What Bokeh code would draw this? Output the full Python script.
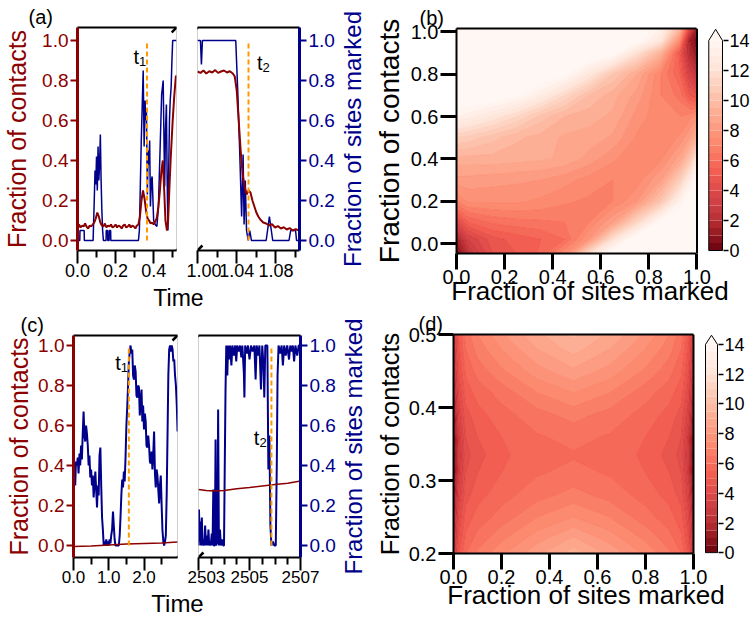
import math
from bokeh.plotting import figure
from bokeh.layouts import row, column
from bokeh.models import LinearAxis, FixedTicker, PrintfTickFormatter, Label, Arrow, Range1d, Span
from bokeh.palettes import Reds9
from bokeh.embed import file_html
from bokeh.resources import INLINE

FONT = "Liberation Sans"
DRED = "#8B0000"
DBLUE = "#00008B"
ORANGE = "#FF9900"

# ===================== values =====================
# ---- panel (a): (time, fraction) ----
a_red_early = [(0.000, 0.060), (0.008, 0.080), (0.016, 0.065), (0.024, 0.075), (0.032, 0.070),
               (0.040, 0.085), (0.048, 0.068), (0.056, 0.060), (0.064, 0.075), (0.072, 0.070),
               (0.080, 0.080), (0.088, 0.090), (0.096, 0.110), (0.104, 0.140), (0.112, 0.120),
               (0.120, 0.090), (0.128, 0.075), (0.136, 0.070), (0.144, 0.085), (0.152, 0.065),
               (0.160, 0.075), (0.168, 0.070), (0.176, 0.080), (0.184, 0.065), (0.192, 0.070),
               (0.200, 0.080), (0.208, 0.065), (0.216, 0.075), (0.224, 0.070), (0.232, 0.060),
               (0.240, 0.075), (0.248, 0.080), (0.256, 0.065), (0.264, 0.070), (0.272, 0.080),
               (0.280, 0.065), (0.288, 0.075), (0.296, 0.070), (0.304, 0.060), (0.312, 0.075),
               (0.320, 0.080), (0.328, 0.120), (0.336, 0.200), (0.344, 0.250), (0.352, 0.210),
               (0.360, 0.150), (0.368, 0.110), (0.376, 0.100), (0.384, 0.085), (0.392, 0.090),
               (0.400, 0.080), (0.408, 0.095), (0.416, 0.110), (0.424, 0.160), (0.432, 0.240),
               (0.440, 0.340), (0.448, 0.400), (0.455, 0.260), (0.462, 0.100), (0.470, 0.050),
               (0.476, 0.100), (0.483, 0.270), (0.490, 0.420), (0.500, 0.600), (0.508, 0.720),
               (0.517, 0.825)]
a_blue_early = [(0.000, 0.0), (0.012, 0.0), (0.013, 0.05), (0.035, 0.05), (0.036, 0.0),
                (0.082, 0.0), (0.088, 0.20), (0.092, 0.35), (0.096, 0.28), (0.100, 0.42),
                (0.104, 0.25), (0.108, 0.47), (0.112, 0.30), (0.116, 0.38), (0.120, 0.53),
                (0.124, 0.30), (0.128, 0.15), (0.132, 0.05), (0.136, 0.0), (0.150, 0.0),
                (0.151, 0.05), (0.158, 0.05), (0.159, 0.0), (0.166, 0.0), (0.167, 0.05),
                (0.174, 0.05), (0.175, 0.0), (0.320, 0.0), (0.325, 0.05), (0.335, 0.50),
                (0.345, 0.85), (0.350, 0.47), (0.355, 0.70), (0.358, 0.60), (0.362, 0.65),
                (0.367, 0.23), (0.371, 0.45), (0.375, 0.38), (0.379, 0.50), (0.383, 0.17),
                (0.388, 0.30), (0.392, 0.32), (0.400, 0.10), (0.408, 0.08), (0.417, 0.07),
                (0.425, 0.17), (0.433, 0.43), (0.442, 0.73), (0.450, 0.80), (0.455, 0.45),
                (0.458, 0.27), (0.462, 0.55), (0.467, 0.68), (0.471, 0.30), (0.475, 0.05),
                (0.479, 0.35), (0.483, 0.60), (0.487, 0.70), (0.492, 0.77), (0.496, 0.90),
                (0.500, 1.00), (0.520, 1.00)]
a_red_late = [(1.000, 0.845), (1.003, 0.838), (1.006, 0.850), (1.009, 0.835), (1.012, 0.846),
              (1.015, 0.840), (1.018, 0.852), (1.021, 0.838), (1.024, 0.845), (1.027, 0.850),
              (1.030, 0.840), (1.033, 0.846), (1.036, 0.835), (1.038, 0.820), (1.040, 0.750),
              (1.042, 0.600), (1.044, 0.450), (1.046, 0.330), (1.048, 0.270), (1.050, 0.230),
              (1.052, 0.250), (1.054, 0.240), (1.056, 0.200), (1.058, 0.170), (1.060, 0.140),
              (1.062, 0.120), (1.064, 0.105), (1.067, 0.090), (1.070, 0.085), (1.073, 0.075),
              (1.076, 0.082), (1.079, 0.065), (1.082, 0.072), (1.085, 0.060), (1.088, 0.066),
              (1.091, 0.055), (1.094, 0.062), (1.097, 0.050), (1.100, 0.056), (1.104, 0.050)]
a_blue_late = [(1.000, 1.0), (1.003, 1.0), (1.004, 0.88), (1.005, 1.0), (1.039, 1.0),
               (1.041, 0.75), (1.043, 0.45), (1.045, 0.12), (1.0465, 0.43), (1.0475, 0.08),
               (1.0487, 0.30), (1.050, 0.05), (1.0517, 0.0), (1.0533, 0.05), (1.055, 0.0),
               (1.070, 0.0), (1.0717, 0.06), (1.0733, 0.12), (1.075, 0.06), (1.0767, 0.0),
               (1.0933, 0.0), (1.095, 0.05), (1.100, 0.05), (1.101, 0.0), (1.104, 0.0)]
a_t1 = 0.365
a_t2 = 1.052

# ---- panel (c): (time, fraction) ----
c_red_early = [(0.0, -0.005), (0.5, -0.002), (1.0, 0.003), (1.5, 0.007), (2.0, 0.010),
               (2.5, 0.013), (2.95, 0.017)]
c_blue_early = [(0.000, 0.20), (0.020, 0.38), (0.048, 0.30), (0.070, 0.42), (0.095, 0.40),
                (0.120, 0.44), (0.143, 0.36), (0.170, 0.46), (0.190, 0.40), (0.215, 0.50),
                (0.238, 0.43), (0.260, 0.55), (0.286, 0.67), (0.310, 0.55), (0.333, 0.52),
                (0.357, 0.60), (0.381, 0.56), (0.405, 0.50), (0.429, 0.40), (0.452, 0.45),
                (0.476, 0.34), (0.500, 0.38), (0.524, 0.30), (0.548, 0.35), (0.571, 0.24),
                (0.595, 0.30), (0.619, 0.37), (0.643, 0.28), (0.667, 0.19), (0.690, 0.30),
                (0.714, 0.25), (0.738, 0.45), (0.762, 0.49), (0.786, 0.30), (0.810, 0.14),
                (0.833, 0.08), (0.857, 0.00), (0.880, 0.02), (0.905, 0.00), (0.930, 0.03),
                (0.952, 0.00), (0.975, 0.02), (1.000, 0.00), (1.024, 0.03), (1.048, 0.01),
                (1.070, 0.05), (1.095, 0.08), (1.120, 0.17), (1.143, 0.10), (1.167, 0.03),
                (1.190, 0.00), (1.240, 0.00), (1.286, 0.00), (1.310, 0.05), (1.333, 0.14),
                (1.357, 0.25), (1.381, 0.33), (1.405, 0.29), (1.429, 0.37), (1.452, 0.32),
                (1.476, 0.44), (1.500, 0.60), (1.524, 0.69), (1.548, 0.80), (1.571, 0.92),
                (1.595, 0.97), (1.619, 1.00), (1.643, 0.96), (1.667, 0.98), (1.690, 0.85),
                (1.714, 0.83), (1.738, 0.90), (1.762, 0.87), (1.786, 0.75), (1.810, 0.74),
                (1.833, 0.80), (1.857, 0.79), (1.880, 0.65), (1.905, 0.72), (1.930, 0.78),
                (1.952, 0.62), (1.975, 0.70), (2.000, 0.58), (2.024, 0.66), (2.048, 0.62),
                (2.070, 0.50), (2.095, 0.49), (2.120, 0.55), (2.143, 0.50), (2.167, 0.42),
                (2.190, 0.41), (2.215, 0.47), (2.238, 0.38), (2.260, 0.45), (2.286, 0.57),
                (2.310, 0.36), (2.333, 0.29), (2.357, 0.38), (2.381, 0.35), (2.405, 0.28),
                (2.429, 0.21), (2.452, 0.30), (2.476, 0.35), (2.500, 0.20), (2.524, 0.075),
                (2.548, 0.02), (2.571, 0.00), (2.595, 0.02), (2.619, 0.05), (2.643, 0.25),
                (2.667, 0.55), (2.690, 0.85), (2.714, 0.98), (2.738, 1.00), (2.762, 0.97),
                (2.786, 1.00), (2.810, 0.98), (2.833, 0.92), (2.857, 0.93), (2.880, 0.85),
                (2.905, 0.80), (2.930, 0.70), (2.952, 0.57)]
c_red_late = [(2503.0, 0.280), (2503.3, 0.275), (2503.6, 0.272), (2504.0, 0.275), (2504.5, 0.284),
              (2505.0, 0.290), (2505.5, 0.298), (2506.0, 0.305), (2506.5, 0.311), (2507.0, 0.322)]
c_blue_late = [(2503.00, 0.00), (2503.02, 0.18), (2503.04, 0.02), (2503.065, 0.12), (2503.09, 0.00),
               (2503.13, 0.14), (2503.16, 0.00), (2503.19, 0.03), (2503.23, 0.00), (2503.26, 0.10),
               (2503.29, 0.00), (2503.32, 0.05), (2503.36, 0.00), (2503.39, 0.08), (2503.42, 0.00),
               (2503.45, 0.02), (2503.48, 0.00), (2503.52, 0.06), (2503.55, 0.00), (2503.58, 0.28),
               (2503.60, 0.00), (2503.64, 0.00), (2503.67, 0.53), (2503.69, 0.00), (2503.74, 0.02),
               (2503.77, 0.68), (2503.80, 0.00), (2503.84, 0.08), (2503.88, 0.00), (2503.93, 0.03),
               (2503.97, 0.00), (2504.00, 0.00), (2504.03, 0.40), (2504.06, 0.78), (2504.09, 1.00),
               (2504.13, 0.85), (2504.16, 1.00), (2504.20, 0.93), (2504.24, 1.00), (2504.29, 0.90),
               (2504.33, 1.00), (2504.39, 0.95), (2504.44, 1.00), (2504.48, 0.92), (2504.52, 1.00),
               (2504.58, 0.97), (2504.63, 1.00), (2504.68, 0.94), (2504.72, 1.00), (2504.78, 0.86),
               (2504.80, 0.74), (2504.83, 1.00), (2504.90, 0.96), (2504.94, 1.00), (2505.00, 0.93),
               (2505.06, 1.00), (2505.12, 0.97), (2505.19, 1.00), (2505.24, 0.83), (2505.28, 1.00),
               (2505.34, 0.95), (2505.39, 1.00), (2505.45, 0.78), (2505.50, 1.00), (2505.55, 0.90),
               (2505.58, 0.74), (2505.62, 1.00), (2505.70, 1.00), (2505.74, 0.38), (2505.78, 0.55),
               (2505.82, 0.10), (2505.86, 0.00), (2505.92, 0.02), (2505.97, 0.00), (2506.03, 0.00),
               (2506.07, 0.40), (2506.10, 0.85), (2506.14, 1.00), (2506.20, 0.96), (2506.26, 1.00),
               (2506.31, 0.90), (2506.36, 1.00), (2506.42, 0.95), (2506.48, 1.00), (2506.55, 0.93),
               (2506.60, 1.00), (2506.66, 0.97), (2506.70, 1.00), (2506.75, 0.92), (2506.80, 1.00),
               (2506.87, 0.95), (2506.93, 1.00), (2507.00, 1.00)]
c_t1 = 1.57
c_t2 = 2505.86

# ---- panel (b): free-energy surface, rows are contacts (bottom -> top) ----
b_sites = [0.0, 0.05, 0.15, 0.25, 0.35, 0.45, 0.55, 0.65, 0.75, 0.85, 0.93, 0.97, 1.0]
b_contacts = [-0.05, 0.02, 0.10, 0.20, 0.30, 0.40, 0.50, 0.60, 0.70, 0.80, 0.90, 0.96, 1.02]
b_energy = [
    [0.3, 2.5, 4.5, 5.0, 5.6, 7.5, 12.0, 15, 15, 15, 15, 15, 15],
    [1.5, 3.5, 4.8, 5.2, 5.5, 6.0, 8.0, 12.0, 15, 15, 15, 15, 15],
    [4.0, 5.5, 6.1, 6.3, 6.4, 6.5, 7.0, 8.5, 11.5, 14.5, 15, 15, 15],
    [7.0, 7.6, 7.6, 7.6, 7.4, 7.1, 6.9, 7.0, 8.0, 10.5, 13.5, 15, 15],
    [8.3, 8.3, 8.2, 8.1, 8.0, 7.7, 7.3, 7.0, 7.2, 8.5, 11.0, 13.0, 14.5],
    [9.3, 9.3, 9.3, 9.2, 9.1, 8.9, 8.3, 7.6, 7.1, 7.4, 8.8, 10.5, 12.5],
    [11.0, 10.8, 10.2, 9.6, 9.3, 8.9, 8.8, 8.4, 7.4, 7.1, 7.6, 8.5, 9.5],
    [13.5, 13.2, 12.4, 11.5, 10.3, 9.5, 9.2, 8.9, 7.8, 7.1, 7.0, 7.3, 7.8],
    [15, 15, 14.8, 14.2, 13.0, 11.5, 10.0, 9.2, 8.3, 7.0, 6.3, 5.0, 4.5],
    [15, 15, 15, 15, 15, 14.3, 12.5, 10.5, 9.0, 7.0, 5.5, 3.5, 2.5],
    [15, 15, 15, 15, 15, 15, 15, 14.5, 12.0, 9.5, 5.0, 2.0, 1.0],
    [15, 15, 15, 15, 15, 15, 15, 15, 14.5, 12.5, 7.5, 1.5, 0.4],
    [15, 15, 15, 15, 15, 15, 15, 15, 15, 13.5, 10.0, 4.5, 1.5],
]

# ---- panel (d) ----
d_sites = [0.0, 0.02, 0.05, 0.1, 0.2, 0.35, 0.5, 0.65, 0.8, 0.9, 0.95, 0.98, 1.0]
d_contacts = [0.2, 0.22, 0.25, 0.28, 0.31, 0.335, 0.36, 0.39, 0.42, 0.45, 0.48, 0.5]
d_energy = [
    [3.3, 4.9, 6.0, 6.6, 7.4, 8.4, 9.3, 8.4, 7.4, 6.6, 6.0, 4.9, 3.3],
    [2.8, 4.5, 5.6, 6.2, 6.9, 7.8, 8.6, 7.8, 6.9, 6.2, 5.6, 4.5, 2.8],
    [2.2, 4.1, 5.2, 5.7, 6.2, 7.0, 7.5, 7.0, 6.2, 5.7, 5.2, 4.1, 2.2],
    [1.5, 3.6, 4.8, 5.3, 5.8, 6.3, 6.7, 6.3, 5.8, 5.3, 4.8, 3.6, 1.5],
    [0.8, 3.2, 4.5, 5.0, 5.5, 5.95, 6.15, 5.95, 5.5, 5.0, 4.5, 3.2, 0.8],
    [0.4, 3.0, 4.3, 4.8, 5.4, 5.8, 5.95, 5.8, 5.4, 4.8, 4.3, 3.0, 0.4],
    [0.8, 3.2, 4.5, 5.0, 5.5, 5.95, 6.15, 5.95, 5.5, 5.0, 4.5, 3.2, 0.8],
    [1.5, 3.6, 4.8, 5.3, 5.8, 6.3, 6.7, 6.3, 5.8, 5.3, 4.8, 3.6, 1.5],
    [2.2, 4.1, 5.2, 5.7, 6.2, 7.0, 7.5, 7.0, 6.2, 5.7, 5.2, 4.1, 2.2],
    [2.8, 4.5, 5.6, 6.2, 6.9, 7.8, 8.4, 7.8, 6.9, 6.2, 5.6, 4.5, 2.8],
    [3.2, 4.8, 6.0, 6.7, 7.5, 8.5, 9.2, 8.5, 7.5, 6.7, 6.0, 4.8, 3.2],
    [3.5, 5.0, 6.2, 7.0, 7.9, 8.9, 9.6, 8.9, 7.9, 7.0, 6.2, 5.0, 3.5],
]

# ---- ticks / levels ----
frac_ticks = [0.0, 0.2, 0.4, 0.6, 0.8, 1.0]
a_early_ticks, a_early_minor = [0.0, 0.2, 0.4], [0.1, 0.3, 0.5]
a_late_ticks, a_late_minor = [1.00, 1.04, 1.08], [1.02, 1.06, 1.10]
c_early_ticks, c_early_minor = [0.0, 1.0, 2.0], [0.5, 1.5, 2.5]
c_late_ticks, c_late_minor = [2503, 2505, 2507], [2503.5, 2504, 2504.5, 2505.5, 2506, 2506.5]
d_y_ticks = [0.2, 0.3, 0.4, 0.5]
cb_ticks = [0, 2, 4, 6, 8, 10, 12, 14]
levels = [0.0, 0.5, 1.0, 1.5, 2.0, 2.5, 3.0, 3.5, 4.0, 4.5, 5.0, 5.5, 6.0, 6.5, 7.0,
          7.5, 8.0, 8.5, 9.0, 9.5, 10.0, 10.5, 11.0, 11.5, 12.0, 12.5, 13.0, 13.5, 14.0]
over_level = 100.0


# ===================== styling helpers =====================
def reds_rgb(f):
    stops = list(Reds9)  # dark -> light
    f = min(max(f, 0.0), 1.0)
    pos = f * (len(stops) - 1)
    i = min(int(pos), len(stops) - 2)
    fr = pos - i
    a = [int(stops[i][k:k + 2], 16) for k in (1, 3, 5)]
    b = [int(stops[i + 1][k:k + 2], 16) for k in (1, 3, 5)]
    return [a[k] + (b[k] - a[k]) * fr for k in range(3)]


def band_color(v, darken=0.0):
    rgb = reds_rgb(v / levels[-1])
    alpha = 1.0 - 0.18 * min(v / 3.0, 1.0) + darken
    alpha = min(alpha, 1.0)
    return "#" + "".join("%02x" % round(255 + (c - 255) * alpha) for c in rgb)


band_colors = [band_color((lo + hi) / 2) for lo, hi in zip(levels[:-1], levels[1:])]
over_color = band_color(levels[-1])
line_colors = [band_color(max(lv - 0.25, 0.0), darken=0.12) for lv in levels] + [over_color]


def base_fig(w, h, xr, yr, bl, br, bt, bb):
    p = figure(width=w, height=h, x_range=Range1d(*xr), y_range=Range1d(*yr),
               min_border_left=bl, min_border_right=br, min_border_top=bt, min_border_bottom=bb,
               x_axis_location=None, y_axis_location=None,
               output_backend="svg", toolbar_location=None)
    p.grid.grid_line_color = None
    p.background_fill_color = "white"
    p.border_fill_color = "white"
    return p


def add_axis(p, side, ticks, minor, fmt, color="black", line_w=2, tick_w=2, out=8, minor_out=5,
             size=19, standoff=2, line_color="same", label=None, label_size=25, label_color=None,
             label_standoff=5, **kw):
    ax = LinearAxis(ticker=FixedTicker(ticks=ticks, minor_ticks=minor or []),
                    formatter=PrintfTickFormatter(format=fmt),
                    axis_line_color=(color if line_color == "same" else line_color), axis_line_width=line_w,
                    major_tick_line_color=color, major_tick_line_width=tick_w,
                    major_tick_in=0, major_tick_out=out,
                    minor_tick_line_color=(color if minor else None), minor_tick_line_width=tick_w,
                    minor_tick_in=0, minor_tick_out=minor_out,
                    major_label_text_font=FONT, major_label_text_font_size=f"{size}px",
                    major_label_text_color=color, major_label_standoff=standoff, **kw)
    if label:
        ax.axis_label = label
        ax.axis_label_text_font = FONT
        ax.axis_label_text_font_size = f"{label_size}px"
        ax.axis_label_text_font_style = "normal"
        ax.axis_label_text_color = label_color or color
        ax.axis_label_standoff = label_standoff
    p.add_layout(ax, side)
    return ax


def bare_axis(**kw):
    return LinearAxis(ticker=FixedTicker(ticks=[]), major_tick_line_color=None, minor_tick_line_color=None,
                      major_tick_out=0, minor_tick_out=0, major_tick_in=0, minor_tick_in=0,
                      major_label_standoff=0, major_label_text_font_size="0px", **kw)


def top_line(p, **kw):
    p.add_layout(bare_axis(axis_line_color="black", axis_line_width=2, **kw), "above")


def letter(p, text, offset):
    p.title.text = text
    p.title.align = "left"
    p.title.offset = offset
    p.title.standoff = 0
    p.title.text_font = FONT
    p.title.text_font_size = "20px"
    p.title.text_font_style = "normal"
    p.title.text_color = "black"


def lab(p, x, y, text, size, color="black", xo=0, yo=0, angle=0.0, align="left", base="middle"):
    p.add_layout(Label(x=x, y=y, text=text, x_offset=xo, y_offset=yo, angle=angle,
                       text_font=FONT, text_font_size=f"{size}px", text_color=color,
                       text_align=align, text_baseline=base))


def brk(p, x, y, fw, fh):
    xr, yr = p.x_range, p.y_range
    dx = 5 * (xr.end - xr.start) / fw
    dy = 5 * (yr.end - yr.start) / fh
    p.add_layout(Arrow(end=None, x_start=x - dx, y_start=y - dy, x_end=x + dx, y_end=y + dy,
                       line_color="black", line_width=2.5))


def strip(w, h, x, y, text, size):
    p = figure(width=w, height=h, x_range=Range1d(0, w), y_range=Range1d(0, h), min_border=0,
               x_axis_location=None, y_axis_location=None, output_backend="svg", toolbar_location=None)
    p.grid.grid_line_color = None
    p.outline_line_color = None
    lab(p, x, y, text, size, align="center", base="middle")
    return p


def side_label(w, h, bt, bb, text, size, color, standoff):
    # narrow companion plot whose (left) axis title reads bottom-to-top, as in the reference
    p = figure(width=w, height=h, x_range=Range1d(0, 1), y_range=Range1d(0, 1),
               min_border_left=w - 1, min_border_right=0, min_border_top=bt, min_border_bottom=bb,
               x_axis_location=None, y_axis_location=None, output_backend="svg", toolbar_location=None)
    p.grid.grid_line_color = None
    p.outline_line_color = None
    ax = bare_axis(axis_line_color=None)
    ax.axis_label = text
    ax.axis_label_text_font = FONT
    ax.axis_label_text_font_size = f"{size}px"
    ax.axis_label_text_font_style = "normal"
    ax.axis_label_text_color = color
    ax.axis_label_standoff = standoff
    p.add_layout(ax, "left")
    return p


def tmark(p, t, ylab, xo, sub):
    p.segment(x0=[t], y0=[0.0], x1=[t], y1=[1.0], line_color=ORANGE, line_width=2, line_dash="5 3")
    lab(p, t, ylab, "t", 20, xo=xo, align="right")
    lab(p, t, ylab, sub, 13, xo=xo, yo=-5, align="left")


FW = 104


def ts_panel(g):
    fh = g["fh"]
    h = g["bt"] + fh + g["bb"]
    pl = base_fig(g["bl"] + FW + 10, h, g["xl"], g["yr"], g["bl"], 10, g["bt"], g["bb"])
    pr = base_fig(11 + FW + g["br"], h, g["xr"], g["yr"], 11, g["br"], g["bt"], g["bb"])
    for p in (pl, pr):
        p.outline_line_color = "#cfcfcf"
        p.outline_line_width = 1
        top_line(p)
    t, v = zip(*g["blue_l"])
    pl.line(list(t), list(v), line_color=DBLUE, line_width=g["bw"])
    t, v = zip(*g["red_l"])
    pl.line(list(t), list(v), line_color=DRED, line_width=g["rw"])
    t, v = zip(*g["blue_r"])
    pr.line(list(t), list(v), line_color=DBLUE, line_width=g["bw"])
    t, v = zip(*g["red_r"])
    pr.line(list(t), list(v), line_color=DRED, line_width=g["rw"])
    tmark(pl, g["t1"], g["t1y"], g["t1xo"], "1")
    tmark(pr, g["t2"], g["t2y"], g["t2xo"], "2")
    add_axis(pl, "left", frac_ticks, None, "%.1f", color=DRED, line_w=3, tick_w=2, out=7, size=19, standoff=2,
             label="Fraction of contacts", label_size=25, label_standoff=g["ylso"])
    add_axis(pr, "right", frac_ticks, None, "%.1f", color=DBLUE, line_w=3, tick_w=2, out=7, size=19, standoff=2)
    add_axis(pl, "below", g["tk_l"], g["mn_l"], g["fmt_l"], out=13, minor_out=7, size=g["tsize"], standoff=0)
    add_axis(pr, "below", g["tk_r"], g["mn_r"], g["fmt_r"], out=13, minor_out=7, size=g["tsize"], standoff=0)
    letter(pl, g["letter"], g["lxo"])
    yl0, yl1 = g["yr"]
    brk(pl, g["xl"][1], yl1, FW, fh)
    brk(pl, g["xl"][1], yl0, FW, fh)
    brk(pr, g["xr"][0], yl1, FW, fh)
    brk(pr, g["xr"][0], yl0, FW, fh)
    rs = side_label(g["rsw"], h, g["bt"], g["bb"], "Fraction of sites marked", 24, DBLUE, g["rlso"])
    st = strip(pl.width + pr.width + g["rsw"], g["sh"], g["timex"], g["timey"], "Time", g["timesize"])
    return column(row(pl, pr, rs), st)


def contour_panel(g):
    span = g["fw_total"] / g["fw"]            # frame also hosts the colour bar to the right
    p = base_fig(g["w"], g["h"], (0.0, span), g["yr"], g["bl"], g["br"], g["bt"], g["bb"])
    p.outline_line_color = None
    p.extra_y_ranges = {"cb": Range1d(*g["cbr"])}
    p.contour(g["x"], g["y"], g["z"], levels=levels + [over_level],
              fill_color=band_colors + [over_color], line_color=line_colors, line_width=0.7)
    add_axis(p, "left", g["yticks"], None, "%.1f", line_w=2, tick_w=3, out=g["ytick"], size=20, standoff=2,
             label="Fraction of contacts", label_size=g["ylsize"], label_standoff=g["ylso"])
    add_axis(p, "below", frac_ticks, None, "%.1f", line_w=2, tick_w=3, out=16, size=20, standoff=0,
             label="Fraction of sites marked", label_size=26, label_standoff=g["xlso"], bounds=(0.0, 1.0))
    top_line(p, bounds=(0.0, 1.0))
    p.add_layout(Span(location=1.0, dimension="height", line_color="black", line_width=2))
    # colour bar
    cx0, cx1 = g["cbx"]
    tip = g["tip"]
    p.quad(left=cx0, right=cx1, bottom=levels[:-1], top=levels[1:], fill_color=band_colors,
           line_color=None, y_range_name="cb")
    top = levels[-1]
    p.patch([cx0, (cx0 + cx1) / 2, cx1], [top, top + tip, top], fill_color=over_color, line_color=None,
            y_range_name="cb")
    p.line([cx0, cx1, cx1, (cx0 + cx1) / 2, cx0, cx0], [levels[0], levels[0], top, top + tip, top, levels[0]],
           line_color="black", line_width=1, y_range_name="cb")
    add_axis(p, "right", cb_ticks, None, "%d", line_color=None, tick_w=1.5, out=5, size=18, standoff=1,
             y_range_name="cb")
    letter(p, g["letter"], g["lxo"])
    return p


panel_a = ts_panel(dict(fh=223, bl=72, br=36, bt=27, bb=34, xl=(0.0, 0.52), xr=(1.0, 1.104), yr=(-0.05, 1.065),
                        red_l=a_red_early, blue_l=a_blue_early, red_r=a_red_late, blue_r=a_blue_late,
                        bw=1.5, rw=2, t1=a_t1, t1y=0.92, t1xo=-8, t2=a_t2, t2y=0.89, t2xo=14,
                        tk_l=a_early_ticks, mn_l=a_early_minor, fmt_l="%.1f",
                        tk_r=a_late_ticks, mn_r=a_late_minor, fmt_r="%.2f", tsize=18,
                        ylso=8, rsw=33, rlso=5, letter="(a)", lxo=-49,
                        sh=26, timex=178, timey=13, timesize=23))
panel_c = ts_panel(dict(fh=222, bl=73, br=36, bt=25, bb=32, xl=(0.0, 2.95), xr=(2503.0, 2507.0), yr=(-0.06, 1.05),
                        red_l=c_red_early, blue_l=c_blue_early, red_r=c_red_late, blue_r=c_blue_late,
                        bw=2, rw=1.5, t1=c_t1, t1y=0.915, t1xo=-8, t2=c_t2, t2y=0.54, t2xo=-12,
                        tk_l=c_early_ticks, mn_l=c_early_minor, fmt_l="%.1f",
                        tk_r=c_late_ticks, mn_r=c_late_minor, fmt_r="%d", tsize=17,
                        ylso=2, rsw=32, rlso=4, letter="(c)", lxo=-53,
                        sh=30, timex=177, timey=16, timesize=24))
panel_b = contour_panel(dict(w=384, h=310, bl=81, br=31, bt=28, bb=57, fw=245, fw_total=272,
                             yr=(-0.047, 1.016), cbr=(-0.2, 14.8), cbx=(1.049, 1.106), tip=0.75,
                             x=b_sites, y=b_contacts, z=b_energy, yticks=frac_ticks, ytick=16,
                             ylsize=28, ylso=3, xlso=-11, letter="(b)", lxo=-37))
panel_d = contour_panel(dict(w=384, h=309, bl=83, br=36, bt=23, bb=66, fw=240, fw_total=265,
                             yr=(0.2, 0.5), cbr=(-0.05, 14.67), cbx=(1.05, 1.10), tip=0.62,
                             x=d_sites, y=d_contacts, z=d_energy, yticks=d_y_ticks, ytick=15,
                             ylsize=25.5, ylso=2, xlso=-7, letter="(d)", lxo=-35))

layout = column(row(panel_a, panel_b), row(panel_c, panel_d))
open("out.html", "w").write(file_html(layout, INLINE))
